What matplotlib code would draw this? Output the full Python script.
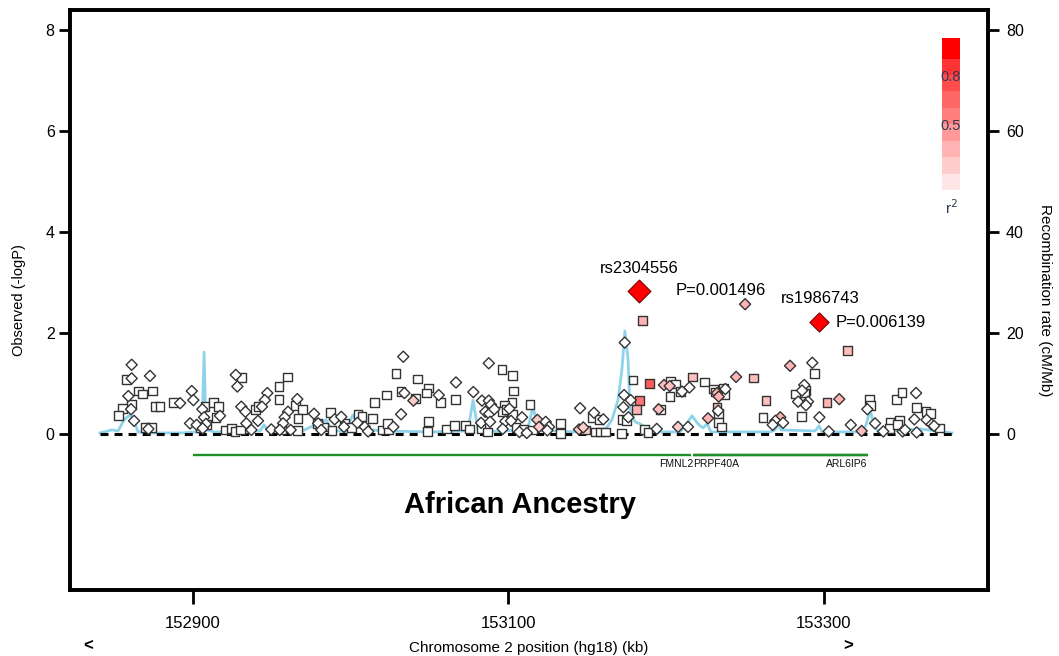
import numpy as np
import matplotlib
matplotlib.use("Agg")
import matplotlib.pyplot as plt
from matplotlib.colors import LinearSegmentedColormap

plt.rcParams['font.family'] = ['Liberation Sans', 'DejaVu Sans']

# ---------------- data ----------------
# genotyped SNPs (squares): position (kb), -log10 P, r^2 with lead SNP
sq_pos = [152858.0, 152865.3, 152867.9, 152874.2, 152861.1, 152855.4, 152852.6, 152875.9, 152879.1, 152887.5,
          152869.6, 152873.8, 152907.6, 152912.9, 152916.0, 152914.6, 152904.4, 152908.7, 152920.3, 152924.5,
          152926.6, 152930.9, 152959.8, 152954.5, 152954.5, 152939.5, 152941.2, 152934.9, 152930.2, 152964.9,
          152969.3, 152966.6, 152956.0, 152966.1, 152987.3, 152978.8, 152983.1, 152996.2, 152988.1, 153004.6,
          153007.1, 153000.4, 153015.2, 153013.7, 153022.5, 153019.8, 153024.0, 153028.7, 153042.5, 153031.9,
          153040.9, 153049.4, 153048.2, 153056.8, 153066.3, 153049.4, 153048.8, 153023.4, 153060.8, 153065.7,
          153072.6, 153075.2, 153082.6, 153086.8, 153095.9, 153102.7, 153103.1, 153102.2, 153097.4, 153096.3,
          153098.9, 153102.7, 153104.8, 153109.4, 153113.7, 153115.4, 153178.9, 153189.3, 153183.0, 153181.3,
          153172.2, 153175.0, 153153.4, 153157.4, 153202.9, 153206.0, 153209.2, 153202.4, 153196.5, 153121.5,
          153133.1, 153133.1, 153149.0, 153155.3, 153158.5, 153161.6, 153171.5, 153186.4, 153188.5, 153184.9,
          153314.8, 153216.8, 153224.4, 153230.1, 153231.1, 153236.4, 153237.1, 153255.5, 153232.2, 153232.9,
          153233.3, 153235.0, 153263.3, 153261.4, 153294.1, 153281.8, 153288.6, 153287.8, 153285.7, 153301.9,
          153328.8, 153329.7, 153346.1, 153349.5, 153358.8, 153341.9, 153347.8, 153341.4, 153346.8, 153364.7,
          153367.7, 153373.1]
sq_logp = [1.08, 0.85, 0.79, 0.85, 0.59, 0.50, 0.36, 0.55, 0.55, 0.63,
           0.13, 0.13, 0.55, 0.63, 0.55, 0.33, 0.13, 0.18, 0.08, 0.11,
           0.05, 1.12, 1.13, 0.94, 0.69, 0.49, 0.54, 0.10, 0.08, 0.57,
           0.49, 0.30, 0.08, 0.07, 0.42, 0.21, 0.14, 0.21, 0.07, 0.38,
           0.34, 0.13, 0.62, 0.30, 0.77, 0.08, 0.08, 1.20, 1.09, 0.84,
           0.71, 0.91, 0.81, 0.62, 0.69, 0.24, 0.05, 0.20, 0.10, 0.17,
           0.16, 0.10, 0.11, 0.04, 1.28, 1.16, 0.85, 0.63, 0.57, 0.44,
           0.48, 0.38, 0.13, 0.10, 0.59, 0.08, 1.07, 1.00, 0.66, 0.48,
           0.29, 0.26, 0.33, 0.28, 1.04, 0.99, 0.84, 0.74, 0.48, 0.21,
           0.20, 0.01, 0.08, 0.04, 0.04, 0.04, 0.01, 0.09, 0.03, 2.24,
           1.66, 1.13, 1.03, 0.89, 0.83, 0.90, 0.77, 1.11, 0.53, 0.41,
           0.22, 0.14, 0.67, 0.32, 1.19, 0.79, 0.86, 0.81, 0.34, 0.62,
           0.69, 0.57, 0.69, 0.82, 0.52, 0.22, 0.26, 0.11, 0.18, 0.44,
           0.40, 0.12]
sq_r2 = [0, 0, 0, 0, 0, 0, 0, 0, 0, 0,
         0, 0, 0, 0, 0, 0, 0, 0, 0, 0,
         0, 0, 0, 0, 0, 0, 0, 0, 0, 0,
         0, 0, 0, 0, 0, 0, 0, 0, 0, 0,
         0, 0, 0, 0, 0, 0, 0, 0, 0, 0,
         0, 0, 0, 0, 0, 0, 0, 0, 0, 0,
         0, 0, 0, 0, 0, 0, 0, 0, 0, 0,
         0, 0, 0, 0, 0, 0, 0, 0.65, 0.55, 0.3,
         0, 0, 0, 0, 0, 0, 0, 0, 0, 0,
         0, 0, 0.2, 0, 0, 0, 0, 0, 0, 0.3,
         0.25, 0.25, 0, 0, 0, 0, 0, 0.25, 0.25, 0,
         0, 0, 0.25, 0, 0, 0, 0, 0, 0, 0.3,
         0, 0, 0, 0, 0, 0, 0, 0, 0, 0,
         0, 0]

# imputed SNPs (diamonds)
dm_pos = [152861.1, 152861.1, 152872.7, 152859.0, 152860.7, 152862.6, 152891.8, 152871.7, 152899.2, 152900.2,
          152898.1, 152902.3, 152905.9, 152907.0, 152917.1, 152908.2, 152906.1, 152927.1, 152928.1, 152947.1,
          152945.5, 152943.7, 152930.6, 152933.2, 152941.2, 152933.8, 152937.0, 152949.6, 152966.1, 152960.2,
          152958.1, 152957.1, 152955.0, 152961.9, 152976.7, 152979.3, 152981.3, 152989.8, 152994.0, 152995.7,
          153004.2, 153008.9, 153011.0, 153033.3, 153034.0, 153039.7, 153055.8, 153066.7, 153031.9, 153027.0,
          153077.7, 153087.5, 153083.2, 153087.5, 153088.9, 153085.3, 153087.8, 153091.0, 153082.6, 153088.3,
          153100.5, 153098.0, 153101.6, 153108.6, 153096.3, 153106.9, 153111.6, 153173.7, 153173.3, 153177.5,
          153172.8, 153176.0, 153145.4, 153154.2, 153160.1, 153198.6, 153202.2, 153195.2, 153207.5, 153118.3,
          153119.4, 153123.6, 153125.7, 153124.6, 153144.7, 153147.4, 153194.0, 153250.0, 153278.5, 153292.6,
          153214.7, 153210.0, 153232.2, 153233.3, 153237.5, 153244.3, 153232.9, 153226.5, 153213.8, 153272.3,
          153269.2, 153267.5, 153274.1, 153287.5, 153286.1, 153283.6, 153289.9, 153288.6, 153297.1, 153303.0,
          153309.7, 153317.0, 153323.9, 153327.5, 153332.4, 153337.6, 153358.4, 153357.3, 153349.9, 153351.4,
          153358.8, 153365.1, 153368.3, 153369.8]
dm_logp = [1.37, 1.10, 1.15, 0.75, 0.49, 0.26, 0.61, 0.10, 0.85, 0.67,
           0.21, 0.18, 0.49, 0.33, 0.36, 0.20, 0.11, 1.17, 0.94, 0.81,
           0.67, 0.54, 0.54, 0.44, 0.26, 0.21, 0.08, 0.09, 0.69, 0.44,
           0.33, 0.21, 0.08, 0.08, 0.40, 0.21, 0.08, 0.29, 0.34, 0.14,
           0.22, 0.14, 0.05, 1.53, 0.81, 0.66, 0.77, 1.02, 0.39, 0.14,
           0.83, 1.40, 0.66, 0.66, 0.58, 0.44, 0.40, 0.49, 0.22, 0.24,
           0.50, 0.25, 0.26, 0.33, 0.10, 0.04, 0.02, 1.81, 0.77, 0.67,
           0.53, 0.33, 0.51, 0.42, 0.29, 0.97, 0.95, 0.49, 0.14, 0.28,
           0.14, 0.24, 0.14, 0.07, 0.09, 0.13, 0.10, 2.57, 1.35, 1.41,
           0.92, 0.84, 0.81, 0.74, 0.89, 1.13, 0.46, 0.31, 0.14, 0.33,
           0.26, 0.18, 0.22, 0.97, 0.86, 0.64, 0.64, 0.57, 0.33, 0.05,
           0.69, 0.18, 0.06, 0.49, 0.21, 0.05, 0.81, 0.29, 0.05, 0.08,
           0.03, 0.28, 0.19, 0.16]
dm_r2 = [0, 0, 0, 0, 0, 0, 0, 0, 0, 0,
         0, 0, 0, 0, 0, 0, 0, 0, 0, 0,
         0, 0, 0, 0, 0, 0, 0, 0, 0, 0,
         0, 0, 0, 0, 0, 0, 0, 0, 0, 0,
         0, 0, 0, 0, 0, 0.2, 0, 0, 0, 0,
         0, 0, 0, 0, 0, 0, 0, 0, 0, 0,
         0, 0, 0, 0, 0, 0, 0, 0, 0, 0,
         0, 0, 0, 0, 0, 0.25, 0.25, 0.25, 0.2, 0.2,
         0.2, 0, 0, 0, 0.2, 0.2, 0, 0.3, 0.3, 0,
         0, 0, 0.3, 0.3, 0, 0.3, 0, 0.3, 0, 0.3,
         0, 0, 0, 0, 0, 0, 0, 0, 0, 0,
         0.3, 0, 0.25, 0, 0, 0, 0, 0, 0, 0,
         0, 0, 0, 0]

# lead SNPs
lead_names = ["rs2304556", "rs1986743"]
lead_pos = [153182.7, 153296.8]
lead_pvals = [0.001496, 0.006139]

# recombination rate (cM/Mb)
recomb_pos = [152841.0, 152848.6, 152852.5, 152856.3, 152860.1, 152862.6, 152865.1, 152872.7, 152891.8, 152903.2,
              152905.7, 152907.0, 152908.2, 152913.9, 152942.5, 152945.0, 152947.5, 152967.8, 152984.3, 152988.1,
              152996.4, 153001.4, 153005.9, 153018.6, 153050.2, 153074.3, 153077.5, 153080.7, 153094.6, 153112.4,
              153115.6, 153118.7, 153142.2, 153161.2, 153165.6, 153169.4, 153171.9, 153173.8, 153175.8, 153177.1,
              153180.2, 153183.4, 153186.6, 153189.7, 153208.7, 153212.5, 153216.3, 153220.1, 153223.3, 153225.9,
              153228.4, 153265.8, 153269.0, 153270.9, 153272.8, 153294.4, 153296.9, 153298.8, 153324.1, 153326.7,
              153329.2, 153331.7, 153334.3, 153348.2, 153360.9, 153381.2]
recomb_rate = [0.2, 0.8, 0.6, 2.8, 3.8, 2.8, 0.4, 0.2, 0.2, 0.4,
               0.8, 16.2, 0.8, 0.4, 0.6, 1.8, 0.6, 0.4, 2.8, 0.8,
               0.4, 3.8, 1.2, 0.6, 0.4, 0.6, 6.7, 0.8, 0.4, 1.2,
               5.5, 0.8, 0.4, 0.8, 2.8, 6.7, 12.7, 20.4, 14.7, 4.8,
               2.4, 2.0, 1.4, 0.4, 0.4, 1.8, 3.6, 2.0, 1.2, 2.0,
               0.4, 0.4, 0.8, 2.0, 0.8, 0.6, 1.6, 0.4, 0.4, 1.8,
               4.8, 1.8, 0.4, 0.8, 1.0, 0.2]

# genes: (name, start, end)
gene_names = ["FMNL2", "PRPF40A", "ARL6IP6"]
gene_start = [152900.0, 153216.8, 153216.8]
gene_end = [153216.0, 153327.9, 153327.9]
gene_label_pos = [153206.2, 153231.6, 153314.6]

r2_levels = [0.1, 0.2, 0.3, 0.4, 0.5, 0.6, 0.7, 0.8, 0.9]

# ---------------- figure ----------------
W, H = 1059, 656
fig = plt.figure(figsize=(W / 100, H / 100), dpi=100)
ax = fig.add_axes([70 / W, 1 - 590 / H, 918 / W, 580 / H])
ax2 = ax.twinx()
ax.set_zorder(ax2.get_zorder() + 1)
ax.patch.set_visible(False)

cmap = LinearSegmentedColormap.from_list("r2", ["#ffffff", "#ff0000"])

ylo, yhi = -3.09, 8.396
ax.set_xlim(152822.0, 153404.0)
ax.set_ylim(ylo, yhi)
ax2.set_ylim(ylo * 10, yhi * 10)

# recombination line
ax2.plot(recomb_pos, recomb_rate, color="#8fd3ea", lw=2, zorder=1)

# dashed baseline
ax.plot([recomb_pos[0], recomb_pos[-1]], [0, 0], color="black", lw=2.2,
        linestyle=(0, (2.6, 2.0)), zorder=2)

# gene line and labels
for name, s, e, lp in zip(gene_names, gene_start, gene_end, gene_label_pos):
    ax.plot([s, e], [-0.42, -0.42], color="#1f8f2a", lw=1.7, solid_capstyle="butt", zorder=2)
    ax.text(lp, -0.60, name, ha="center", va="center", fontsize=7.5, color="#111111")

# SNPs
ax.scatter(sq_pos, sq_logp, marker="s", s=40, c=cmap(np.array(sq_r2)),
           edgecolors="#333333", linewidths=1.0, zorder=3)
ax.scatter(dm_pos, dm_logp, marker="D", s=32, c=cmap(np.array(dm_r2)),
           edgecolors="#333333", linewidths=1.0, zorder=3)

lead_logp = -np.log10(lead_pvals)
ax.scatter(lead_pos[0], lead_logp[0], marker="D", s=135, color="#ff0000",
           edgecolors="#7a0000", linewidths=0.8, zorder=5)
ax.scatter(lead_pos[1], lead_logp[1], marker="D", s=95, color="#ff0000",
           edgecolors="#7a0000", linewidths=0.8, zorder=5)

ax.text(lead_pos[0], lead_logp[0] + 0.46, lead_names[0], ha="center", va="center", fontsize=12)
ax.text(lead_pos[0] + 23.5, lead_logp[0] + 0.02, "P=%.6f" % lead_pvals[0], ha="left", va="center", fontsize=12)
ax.text(lead_pos[1] + 0.7, lead_logp[1] + 0.47, lead_names[1], ha="center", va="center", fontsize=12)
ax.text(lead_pos[1] + 10.8, lead_logp[1] + 0.0, "P=%.6f" % lead_pvals[1], ha="left", va="center", fontsize=12)

ax.text(153107.0, -1.41, "African Ancestry", ha="center", va="center", fontsize=21, fontweight="bold")

# axes styling
for a in (ax, ax2):
    for sp in a.spines.values():
        sp.set_linewidth(2.6)
ax.set_xticks([152900, 153100, 153300])
ax.set_xticklabels(["152900", "153100", "153300"])
ax.set_yticks([0, 2, 4, 6, 8])
ax2.set_yticks([0, 20, 40, 60, 80])
ax.tick_params(axis="both", direction="out", length=8, width=2, labelsize=11.5, pad=3)
ax.tick_params(axis="x", length=10, pad=9, labelsize=12)
ax2.tick_params(axis="y", direction="out", length=8, width=2, labelsize=11.5, pad=5)
ax.set_ylabel("Observed (-logP)", fontsize=10.5, labelpad=14)
ax2.set_ylabel("Recombination rate (cM/Mb)", fontsize=11, rotation=-90, labelpad=20)
ax.set_xlabel("Chromosome 2 position (hg18) (kb)", fontsize=11, labelpad=7)

# r^2 colour key
cax = fig.add_axes([942 / W, 1 - 190 / H, 18 / W, 152 / H])
top = 1.025
for i, lo in enumerate(r2_levels):
    hi = r2_levels[i + 1] if i + 1 < len(r2_levels) else top
    col = cmap(lo) if i + 1 < len(r2_levels) else cmap(1.0)
    cax.bar(0.5, hi - lo, bottom=lo, width=1.0, color=col, edgecolor="none")
cax.set_xlim(0, 1)
cax.set_ylim(r2_levels[0], top)
cax.axis("off")
for v in (0.8, 0.5):
    cax.text(0.5, v - 0.01, "%.1f" % v, ha="center", va="center", fontsize=10.5, color="#2e3b55")
cax.text(0.5, -0.01, "r$^2$", ha="center", va="center", fontsize=11, color="#2e3b55")

# gene direction chevrons near the bottom edge
fig.text(88 / W, 3 / H, "<", ha="center", va="bottom", fontsize=12, fontweight="bold")
fig.text(848 / W, 3 / H, ">", ha="center", va="bottom", fontsize=12, fontweight="bold")

fig.savefig("out.png", dpi=100)
